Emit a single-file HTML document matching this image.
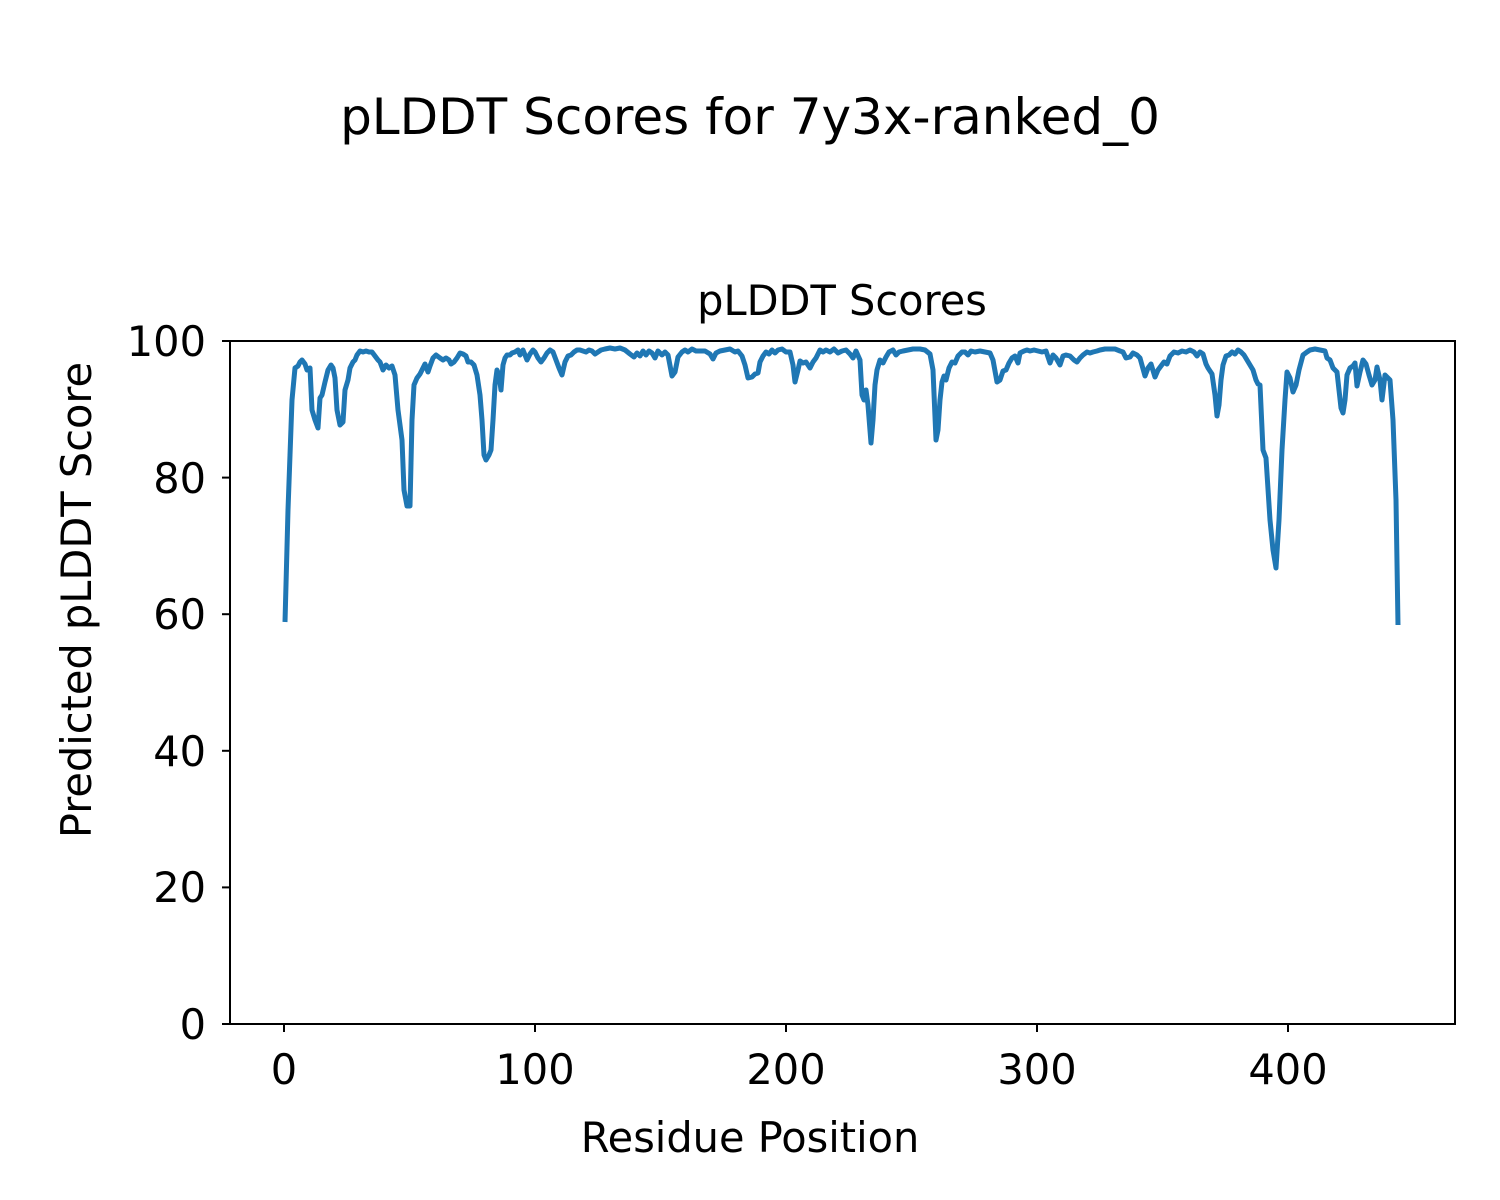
<!DOCTYPE html>
<html><head><meta charset="utf-8"><style>
html,body{margin:0;padding:0;background:#fff}
svg{display:block}
text{font-family:"DejaVu Sans","Liberation Sans",sans-serif;fill:#000}
</style></head><body>
<svg width="1500" height="1200" viewBox="0 0 1500 1200" xmlns="http://www.w3.org/2000/svg">
<rect width="1500" height="1200" fill="#fff"/>
<text x="750" y="134" font-size="50" text-anchor="middle">pLDDT Scores for 7y3x-ranked_0</text>
<text x="842" y="315" font-size="41.5" text-anchor="middle">pLDDT Scores</text>
<polyline fill="none" stroke="#1f77b4" stroke-width="5" stroke-linejoin="round" points="
285,622 288,510 290,455 292,400 295,368 298,366 300,362 302,360 305,364 307,370 310,368 312,410 315,420 318,428 320,398 322,395 325,382 328,370 331,365 333,368 335,378 337,410 340,425 343,422 345,390 348,380 350,368 353,362 355,360 357,355 360,351 363,352 366,351 369,352 372,352 375,356 378,360 380,362 383,370 386,365 389,368 392,366 395,375 398,410 400,425 402,440 404,490 407,506 410,506 412,420 414,385 417,378 420,374 422,370 425,364 428,372 430,366 433,358 436,355 440,358 443,360 446,358 449,360 451,364 454,362 457,358 460,353 463,354 466,356 468,362 471,362 474,365 477,375 480,395 482,420 484,455 486,460 489,455 491,450 493,420 495,385 497,370 499,375 501,390 503,365 505,358 507,355 510,355 512,353 515,352 518,350 520,355 523,350 525,355 527,360 530,354 533,350 535,352 538,358 541,362 544,358 547,353 550,350 553,352 556,360 559,368 562,375 565,362 568,356 571,355 574,352 577,350 580,350 583,351 586,352 589,350 592,351 595,354 598,352 601,350 605,349 610,348 615,349 620,348 625,350 630,354 634,357 637,353 640,356 643,351 646,355 649,351 652,353 655,358 658,351 662,355 665,352 668,355 672,376 675,372 678,357 682,352 685,350 688,352 692,349 696,351 700,351 705,351 710,354 713,359 716,353 720,351 725,350 730,349 735,352 738,351 742,356 745,365 748,378 752,377 755,374 758,373 760,362 763,356 766,352 769,354 772,350 775,353 778,350 782,349 786,352 790,352 793,365 795,382 798,370 800,361 803,363 806,362 810,368 813,362 816,358 820,350 823,352 826,350 830,352 834,349 838,353 842,351 846,350 850,354 853,358 856,351 860,360 862,395 864,400 866,390 868,405 871,443 873,420 875,385 877,370 880,360 883,363 886,357 889,352 893,350 896,355 899,352 903,351 908,350 913,349 920,349 925,350 930,354 933,370 936,440 938,430 940,400 942,382 944,376 946,380 949,368 952,362 955,363 958,356 962,352 965,352 968,355 971,351 975,352 980,351 985,352 990,353 993,360 997,382 1000,380 1003,371 1006,370 1009,363 1012,358 1015,356 1018,363 1020,353 1024,351 1027,350 1030,351 1034,350 1038,351 1042,352 1046,351 1050,363 1053,355 1056,358 1060,365 1063,356 1066,355 1070,356 1074,360 1077,362 1080,358 1083,355 1087,352 1090,353 1093,352 1097,351 1100,350 1105,349 1110,349 1115,349 1120,351 1123,352 1126,358 1130,357 1133,353 1137,355 1140,358 1145,376 1148,368 1151,364 1155,377 1158,370 1161,366 1164,362 1167,364 1170,356 1174,352 1178,353 1182,351 1186,352 1190,350 1194,352 1197,356 1200,352 1203,354 1206,364 1208,368 1212,374 1215,395 1217,416 1219,405 1221,380 1223,365 1226,356 1229,355 1232,352 1235,354 1238,350 1241,352 1244,355 1247,360 1250,365 1253,370 1256,380 1258,384 1260,385 1263,450 1266,458 1270,520 1273,550 1276,568 1279,520 1282,450 1285,400 1287,372 1290,378 1293,392 1296,385 1299,370 1303,355 1307,352 1310,350 1315,349 1320,350 1325,351 1327,358 1330,360 1333,368 1337,372 1339,390 1341,408 1343,413 1345,400 1347,375 1350,368 1353,366 1355,363 1357,386 1360,372 1363,360 1366,364 1369,375 1372,385 1375,380 1377,367 1380,380 1382,400 1385,375 1388,378 1390,380 1393,420 1396,500 1398,625"/>
<rect x="230" y="341" width="1225" height="683" fill="none" stroke="#000" stroke-width="2"/>
<g stroke="#000" stroke-width="2">
<line x1="222" y1="1024" x2="230" y2="1024"/><line x1="222" y1="887.4" x2="230" y2="887.4"/><line x1="222" y1="750.8" x2="230" y2="750.8"/><line x1="222" y1="614.2" x2="230" y2="614.2"/><line x1="222" y1="477.6" x2="230" y2="477.6"/><line x1="222" y1="341" x2="230" y2="341"/>
<line x1="284" y1="1024" x2="284" y2="1032"/><line x1="535" y1="1024" x2="535" y2="1032"/><line x1="786" y1="1024" x2="786" y2="1032"/><line x1="1037" y1="1024" x2="1037" y2="1032"/><line x1="1288" y1="1024" x2="1288" y2="1032"/>
</g>
<g font-size="41.5" text-anchor="end">
<text x="206" y="1039">0</text><text x="206" y="902">20</text><text x="206" y="766">40</text><text x="206" y="629">60</text><text x="206" y="493">80</text><text x="206" y="356">100</text>
</g>
<g font-size="41.5" text-anchor="middle">
<text x="284" y="1084">0</text><text x="535" y="1084">100</text><text x="786" y="1084">200</text><text x="1037" y="1084">300</text><text x="1288" y="1084">400</text>
<text x="750" y="1152">Residue Position</text>
<text transform="translate(91,600) rotate(-90)">Predicted pLDDT Score</text>
</g>
</svg>
</body></html>
